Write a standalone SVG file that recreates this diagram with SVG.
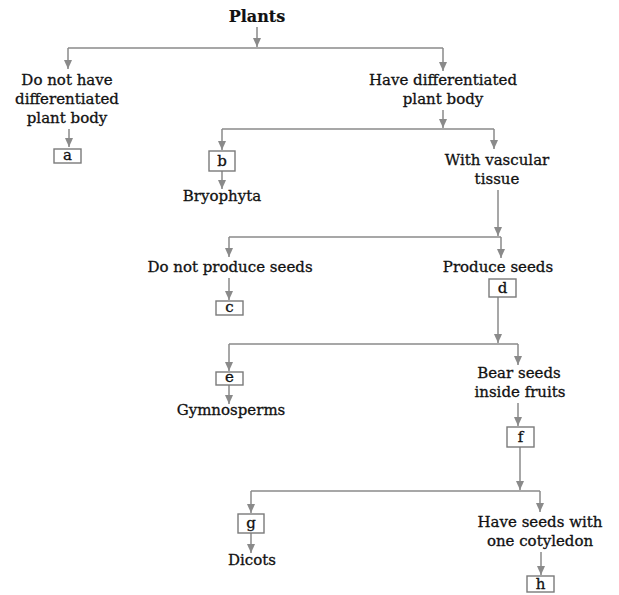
<svg xmlns="http://www.w3.org/2000/svg" width="619" height="595" viewBox="0 0 619 595">
<style>
text{font-family:"DejaVu Serif","Liberation Serif",serif;font-size:15px;fill:#111;stroke:#111;stroke-width:0.3;text-anchor:middle}
.title{font-weight:bold;font-size:16px;stroke-width:0.2}
.box{fill:#fff;stroke:#7a7a7a;stroke-width:1.4}
.ln{fill:none;stroke:#8a8a8a;stroke-width:1.5}
.ar{fill:none;stroke:#8a8a8a;stroke-width:1.5;marker-end:url(#ah)}
</style>
<defs>
<marker id="ah" markerUnits="userSpaceOnUse" markerWidth="9" markerHeight="10" refX="9" refY="4" orient="auto">
<path d="M0,0 L9,4 L0,8 Z" fill="#8a8a8a"/>
</marker>
</defs>
<rect width="619" height="595" fill="#fff"/>
<g id="connectors">
<path class="ar" d="M257,27 V47"/>
<path class="ln" d="M68,48 H443"/>
<path class="ar" d="M68,48 V69"/>
<path class="ar" d="M443,48 V71"/>
<path class="ar" d="M69,129 V147"/>
<path class="ar" d="M443,110 V128"/>
<path class="ln" d="M222,129 H494"/>
<path class="ar" d="M222,129 V150"/>
<path class="ar" d="M494,129 V149"/>
<path class="ar" d="M222,171 V189"/>
<path class="ar" d="M498,190 V236"/>
<path class="ln" d="M229,237 H501"/>
<path class="ar" d="M229,237 V257"/>
<path class="ar" d="M501,237 V258"/>
<path class="ar" d="M229,278 V300"/>
<path class="ar" d="M498,297 V343"/>
<path class="ln" d="M229,344 H518"/>
<path class="ar" d="M229,344 V371"/>
<path class="ar" d="M518,344 V365"/>
<path class="ar" d="M229,385 V404"/>
<path class="ar" d="M518,403 V426"/>
<path class="ar" d="M520,447 V490"/>
<path class="ln" d="M251,491 H540"/>
<path class="ar" d="M251,491 V513"/>
<path class="ar" d="M540,491 V512"/>
<path class="ar" d="M251,533 V553"/>
<path class="ar" d="M541,552 V575"/>
</g>
<g id="plants"><text class="title" x="257" y="22">Plants</text></g>
<g id="not-differentiated"><text x="67" y="85">Do not have</text><text x="67" y="104">differentiated</text><text x="67" y="123">plant body</text></g>
<g id="box-a"><rect class="box" x="54" y="149" width="27" height="14"/><text x="67.5" y="160">a</text></g>
<g id="differentiated"><text x="443" y="85">Have differentiated</text><text x="443" y="104">plant body</text></g>
<g id="box-b"><rect class="box" x="209" y="151" width="26" height="20"/><text x="222" y="166">b</text></g>
<g id="bryophyta"><text x="222" y="201">Bryophyta</text></g>
<g id="vascular"><text x="497" y="165">With vascular</text><text x="497" y="184">tissue</text></g>
<g id="no-seeds"><text x="230" y="272">Do not produce seeds</text></g>
<g id="box-c"><rect class="box" x="216" y="301" width="27" height="14"/><text x="229.5" y="312">c</text></g>
<g id="seeds"><text x="498" y="272">Produce seeds</text></g>
<g id="box-d"><rect class="box" x="489" y="279" width="27" height="18"/><text x="502.5" y="293">d</text></g>
<g id="box-e"><rect class="box" x="216" y="372" width="27" height="13"/><text x="229.5" y="382">e</text></g>
<g id="gymnosperms"><text x="231" y="415">Gymnosperms</text></g>
<g id="fruits"><text x="519" y="378">Bear seeds</text><text x="520" y="397">inside fruits</text></g>
<g id="box-f"><rect class="box" x="507" y="427" width="27" height="20"/><text x="520.5" y="442">f</text></g>
<g id="box-g"><rect class="box" x="238" y="514" width="26" height="19"/><text x="251" y="528">g</text></g>
<g id="dicots"><text x="252" y="565">Dicots</text></g>
<g id="one-cotyledon"><text x="540" y="527">Have seeds with</text><text x="540" y="546">one cotyledon</text></g>
<g id="box-h"><rect class="box" x="527" y="576" width="27" height="16"/><text x="540.5" y="589">h</text></g>
</svg>
